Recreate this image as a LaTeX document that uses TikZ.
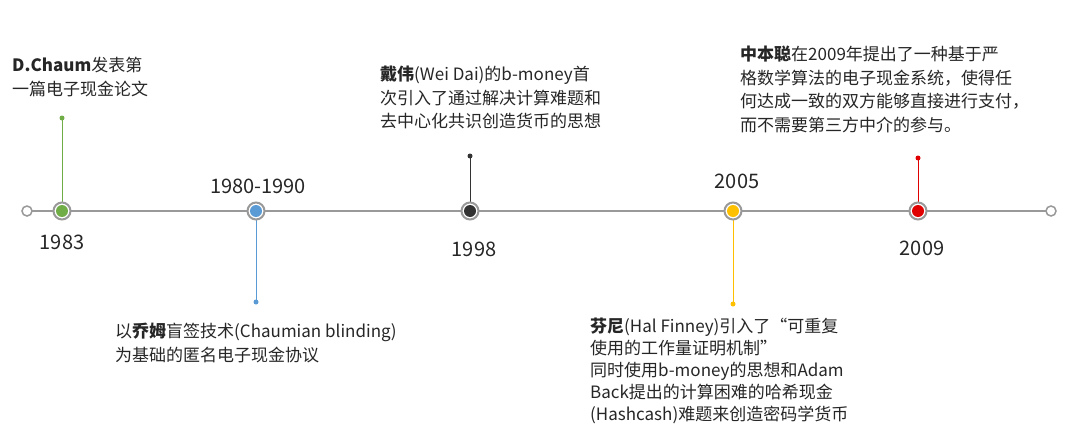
\documentclass[tikz,border=0pt]{standalone}
\usepackage{fontspec}
\setmainfont{Noto Sans CJK SC}
\definecolor{cg}{HTML}{70AD47}
\definecolor{cb}{HTML}{5B9BD5}
\definecolor{cy}{HTML}{FFC000}
\definecolor{cr}{HTML}{E00000}
\definecolor{ck}{HTML}{333333}
\begin{document}
\begin{tikzpicture}[x=1pt,y=-1pt,
  txt/.style={anchor=north west,align=left,inner sep=0pt,font=\fontsize{17}{23.5}\selectfont,text=black!85},
  yr/.style={font=\fontsize{20}{22}\selectfont,text=black!85},
  mk/.style={circle,draw=gray!80,line width=2pt,minimum size=17pt,inner sep=0pt}]
\useasboundingbox (0,0) rectangle (1080,439);
\coordinate (L) at (27,211);
\coordinate (R) at (1051,211);
\draw[gray!80,line width=2.5pt] (L) -- (R);
\node[circle,draw=gray!80,fill=white,line width=1.5pt,minimum size=10pt,inner sep=0pt] at (L) {};
\node[circle,draw=gray!80,fill=white,line width=1.5pt,minimum size=10pt,inner sep=0pt] at (R) {};
\foreach \n/\x/\c/\ty in {a/62/cg/118, b/256/cb/302, c/470/ck/156, d/733/cy/304, e/918/cr/158}{
  \coordinate (t\n) at (\x,\ty);
  \draw[\c,line width=0.8pt] (\x,211) -- (t\n);
  \fill[\c] (t\n) circle (2.5pt);
  \node[mk,fill=white] (m\n) at (\x,211) {};
  \fill[\c] (m\n) circle (6pt);
}
\node[yr] at (62,242) {1983};
\node[yr] at (258,186) {1980-1990};
\node[yr] at (474,249) {1998};
\node[yr] at (737,181) {2005};
\node[yr] at (922,248) {2009};
\node[txt] at (12,57) {\textbf{D.Chaum}发表第\\一篇电子现金论文};
\node[txt] at (380,66) {\textbf{戴伟}(Wei Dai)的b-money首\\次引入了通过解决计算难题和\\去中心化共识创造货币的思想};
\node[txt] at (740,46) {\textbf{中本聪}在2009年提出了一种基于严\\格数学算法的电子现金系统，使得任\\何达成一致的双方能够直接进行支付，\\而不需要第三方中介的参与。};
\node[txt] at (115,323) {以\textbf{乔姆}盲签技术(Chaumian blinding)\\为基础的匿名电子现金协议};
\node[txt,font=\fontsize{17}{22}\selectfont] at (590,318) {\textbf{芬尼}(Hal Finney)引入了“可重复\\使用的工作量证明机制”\\同时使用b-money的思想和Adam\\Back提出的计算困难的哈希现金\\(Hashcash)难题来创造密码学货币};
\end{tikzpicture}
\end{document}
